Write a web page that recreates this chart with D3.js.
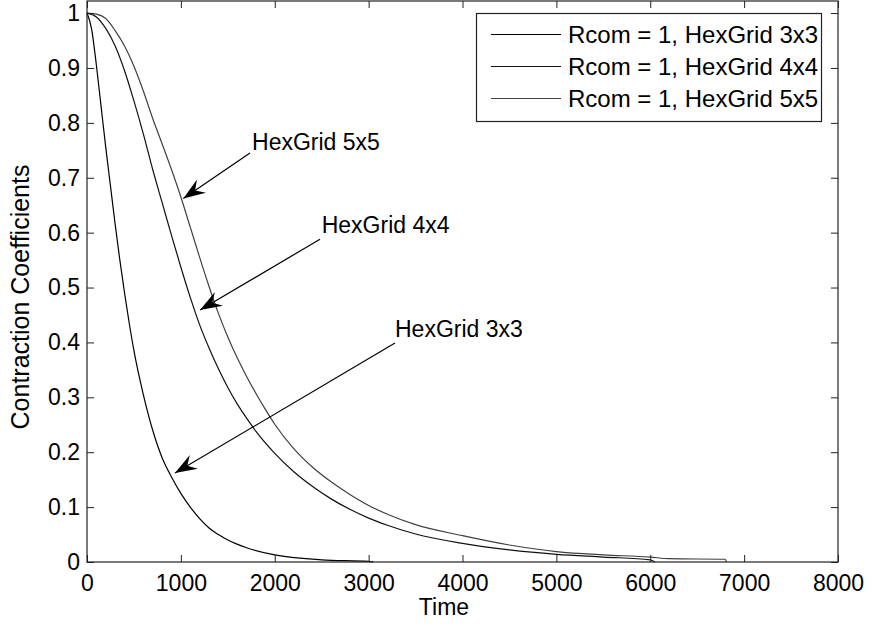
<!DOCTYPE html>
<html lang="en">
<head>
    <meta charset="utf-8">
    <script type="text/javascript" src="https://d3js.org/d3.v7.min.js"></script>
    <style>
        body { margin: 0; background: #fff; }
        text { font-family: "Liberation Sans", Arial, Helvetica, sans-serif; fill: #000; }
    </style>
</head>
<body>
<script type="text/javascript">

    //Width and height
    let w = 872;
    let h = 628;

    //Data: time and contraction coefficient for each grid
    let times3 = [0, 50, 100, 150, 200, 250, 300, 350, 400, 450, 500, 600, 700, 800, 900, 1000, 1100, 1200, 1300, 1400, 1500, 1700, 2000, 2500, 3000, 3050];
    let coef3 = [1, 0.97, 0.905, 0.83, 0.755, 0.685, 0.615, 0.55, 0.49, 0.435, 0.385, 0.305, 0.24, 0.19, 0.155, 0.125, 0.1, 0.079, 0.062, 0.05, 0.04, 0.026, 0.013, 0.004, 0.001, 0];

    let times4 = [0, 100, 200, 300, 400, 500, 600, 700, 800, 900, 1000, 1100, 1200, 1300, 1400, 1500, 1600, 1700, 1800, 2000, 2200, 2400, 2600, 2800, 3000, 3200, 3500, 4000, 4500, 5000, 5500, 6000, 6050];
    let coef4 = [1, 0.993, 0.972, 0.94, 0.895, 0.84, 0.78, 0.715, 0.655, 0.595, 0.537, 0.482, 0.432, 0.39, 0.352, 0.318, 0.288, 0.262, 0.238, 0.198, 0.165, 0.138, 0.115, 0.096, 0.08, 0.067, 0.051, 0.034, 0.022, 0.014, 0.009, 0.004, 0];

    let times5 = [0, 100, 200, 300, 400, 500, 600, 700, 800, 900, 1000, 1100, 1200, 1300, 1400, 1500, 1600, 1700, 1800, 1900, 2000, 2200, 2400, 2600, 2800, 3000, 3200, 3500, 4000, 4500, 5000, 5500, 6000, 6200, 6800, 6810];
    let coef5 = [1, 0.998, 0.99, 0.968, 0.94, 0.903, 0.858, 0.808, 0.762, 0.715, 0.665, 0.61, 0.555, 0.502, 0.453, 0.41, 0.372, 0.338, 0.307, 0.278, 0.251, 0.207, 0.173, 0.146, 0.123, 0.103, 0.087, 0.068, 0.048, 0.031, 0.019, 0.013, 0.009, 0.006, 0.005, 0];

    let seriesNames = ["Rcom = 1, HexGrid 3x3", "Rcom = 1, HexGrid 4x4", "Rcom = 1, HexGrid 5x5"];
    let seriesColors = ["#000", "#111", "#404040"];

    //Ticks
    let xTicks = [0, 1000, 2000, 3000, 4000, 5000, 6000, 7000, 8000];
    let xTickLabels = ["0", "1000", "2000", "3000", "4000", "5000", "6000", "7000", "8000"];
    let yTicks = [0, 0.1, 0.2, 0.3, 0.4, 0.5, 0.6, 0.7, 0.8, 0.9, 1];
    let yTickLabels = ["0", "0.1", "0.2", "0.3", "0.4", "0.5", "0.6", "0.7", "0.8", "0.9", "1"];

    //Annotations: label, text start [t, v], arrow tail [t, v], arrow tip [t, v]
    let notes = [
        {label: "HexGrid 5x5", text: [1758, 0.75], tail: [1736, 0.745], tip: [1026, 0.662]},
        {label: "HexGrid 4x4", text: [2500, 0.599], tail: [2482, 0.588], tip: [1204, 0.459]},
        {label: "HexGrid 3x3", text: [3281, 0.41], tail: [3281, 0.399], tip: [937, 0.162]}
    ];

    let series = [
        times3.map((t, i) => [t, coef3[i]]),
        times4.map((t, i) => [t, coef4[i]]),
        times5.map((t, i) => [t, coef5[i]])
    ];

    //Scales
    let x = d3.scaleLinear().domain([0, 8000]).range([87, 838]);
    let y = d3.scaleLinear().domain([0, 1.022]).range([562, 1]);

    //Create SVG element
    let svg = d3.select("body")
        .append("svg")
        .attr("width", w)
        .attr("height", h);

    //Curves
    let line = d3.line()
        .x(d => x(d[0]))
        .y(d => y(d[1]))
        .curve(d3.curveMonotoneX);

    svg.selectAll("path.curve")
        .data(series)
        .enter()
        .append("path")
        .attr("class", "curve")
        .attr("d", line)
        .attr("fill", "none")
        .attr("stroke", (d, i) => seriesColors[i])
        .attr("stroke-width", 1.2);

    //Axes (ticks on all four sides, pointing inward)
    let axisStyle = g => {
        g.select(".domain").remove();
        g.selectAll(".tick line").attr("stroke", "#222");
        g.selectAll(".tick text").style("font-size", "23px").attr("fill", "#000");
    };

    svg.append("g")
        .attr("transform", "translate(0,562)")
        .call(d3.axisBottom(x).tickValues(xTicks).tickSize(-7).tickPadding(13)
            .tickFormat((d, i) => xTickLabels[i]))
        .call(axisStyle);

    svg.append("g")
        .attr("transform", "translate(87,0)")
        .call(d3.axisLeft(y).tickValues(yTicks).tickSize(-7).tickPadding(7)
            .tickFormat((d, i) => yTickLabels[i]))
        .call(axisStyle);

    svg.append("g")
        .attr("transform", "translate(0,1)")
        .call(d3.axisTop(x).tickValues(xTicks).tickSize(-7).tickFormat(""))
        .call(axisStyle);

    svg.append("g")
        .attr("transform", "translate(838,0)")
        .call(d3.axisRight(y).tickValues(yTicks).tickSize(-7).tickFormat(""))
        .call(axisStyle);

    //Axes box
    svg.append("rect")
        .attr("x", x(0))
        .attr("y", y(1.022))
        .attr("width", x(8000) - x(0))
        .attr("height", y(0) - y(1.022))
        .attr("fill", "none")
        .attr("stroke", "#222")
        .attr("stroke-width", 1.2);

    //Axis labels
    svg.append("text")
        .attr("x", 444)
        .attr("y", 615)
        .attr("text-anchor", "middle")
        .style("font-size", "23px")
        .text("Time");

    svg.append("text")
        .attr("transform", "translate(29,297) rotate(-90)")
        .attr("text-anchor", "middle")
        .style("font-size", "25px")
        .text("Contraction Coefficients");

    //Annotation arrows
    let arrowHead = (tip, tail) => {
        let dx = tip[0] - tail[0], dy = tip[1] - tail[1];
        let len = Math.sqrt(dx * dx + dy * dy);
        let ux = dx / len, uy = dy / len;
        let nx = -uy, ny = ux;
        let L = 22, W = 8;
        let p = [
            [tip[0], tip[1]],
            [tip[0] - L * ux + W * nx, tip[1] - L * uy + W * ny],
            [tip[0] - 0.65 * L * ux, tip[1] - 0.65 * L * uy],
            [tip[0] - L * ux - W * nx, tip[1] - L * uy - W * ny]
        ];
        return "M" + p.join("L") + "Z";
    };

    let ann = svg.selectAll("g.note")
        .data(notes)
        .enter()
        .append("g")
        .attr("class", "note");

    ann.append("line")
        .attr("x1", d => x(d.tail[0]))
        .attr("y1", d => y(d.tail[1]))
        .attr("x2", d => x(d.tip[0]))
        .attr("y2", d => y(d.tip[1]))
        .attr("stroke", "#000")
        .attr("stroke-width", 1.2);

    ann.append("path")
        .attr("d", d => arrowHead([x(d.tip[0]), y(d.tip[1])], [x(d.tail[0]), y(d.tail[1])]))
        .attr("fill", "#000");

    ann.append("text")
        .attr("x", d => x(d.text[0]))
        .attr("y", d => y(d.text[1]))
        .style("font-size", "23px")
        .text(d => d.label);

    //Legend
    let legend = svg.append("g");

    legend.append("rect")
        .attr("x", 476.5)
        .attr("y", 13.5)
        .attr("width", 345)
        .attr("height", 108)
        .attr("fill", "#fff")
        .attr("stroke", "#222")
        .attr("stroke-width", 1.2);

    let rows = legend.selectAll("g.row")
        .data(seriesNames)
        .enter()
        .append("g")
        .attr("class", "row")
        .attr("transform", (d, i) => "translate(0," + (34.5 + i * 32) + ")");

    rows.append("line")
        .attr("x1", 491)
        .attr("x2", 561)
        .attr("stroke", (d, i) => seriesColors[i])
        .attr("stroke-width", 1);

    rows.append("text")
        .attr("x", 568)
        .attr("dy", "0.36em")
        .style("font-size", "24px")
        .text(d => d);

</script>
</body>
</html>
